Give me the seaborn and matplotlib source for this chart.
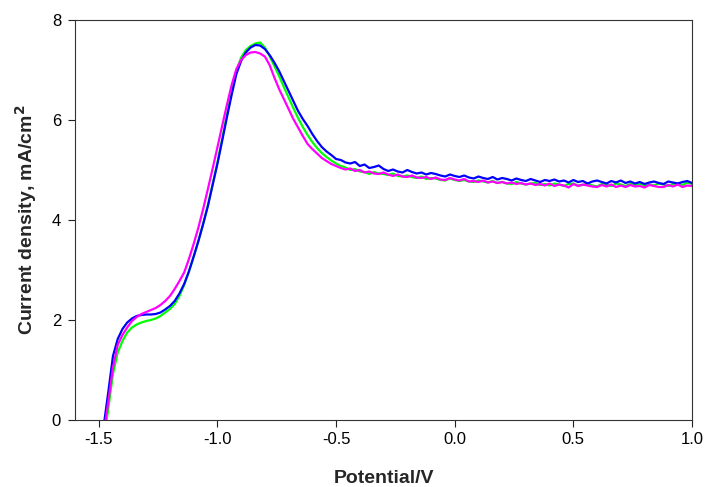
import numpy as np
import pandas as pd
import matplotlib
matplotlib.use("Agg")
import matplotlib.pyplot as plt
import seaborn as sns

# ======================
# DATA
# ======================
potential = [
    -1.48, -1.46, -1.44, -1.42, -1.40, -1.38, -1.36, -1.34, -1.32, -1.30,
    -1.28, -1.26, -1.24, -1.22, -1.20, -1.18, -1.16, -1.14, -1.12, -1.10,
    -1.08, -1.06, -1.04, -1.02, -1.00, -0.98, -0.96, -0.94, -0.92, -0.90,
    -0.88, -0.86, -0.84, -0.82, -0.80, -0.78, -0.76, -0.74, -0.72, -0.70,
    -0.68, -0.66, -0.64, -0.62, -0.60, -0.58, -0.56, -0.54, -0.52, -0.50,
    -0.48, -0.46, -0.44, -0.42, -0.40, -0.38, -0.36, -0.34, -0.32, -0.30,
    -0.28, -0.26, -0.24, -0.22, -0.20, -0.18, -0.16, -0.14, -0.12, -0.10,
    -0.08, -0.06, -0.04, -0.02, 0.00, 0.02, 0.04, 0.06, 0.08, 0.10,
    0.12, 0.14, 0.16, 0.18, 0.20, 0.22, 0.24, 0.26, 0.28, 0.30,
    0.32, 0.34, 0.36, 0.38, 0.40, 0.42, 0.44, 0.46, 0.48, 0.50,
    0.52, 0.54, 0.56, 0.58, 0.60, 0.62, 0.64, 0.66, 0.68, 0.70,
    0.72, 0.74, 0.76, 0.78, 0.80, 0.82, 0.84, 0.86, 0.88, 0.90,
    0.92, 0.94, 0.96, 0.98, 1.00,
]

current_green = [
    -0.45, 0.22, 0.92, 1.35, 1.58, 1.75, 1.85, 1.91, 1.95, 1.98,
    2.00, 2.03, 2.08, 2.15, 2.22, 2.32, 2.48, 2.70, 2.97, 3.26,
    3.58, 3.92, 4.30, 4.72, 5.15, 5.62, 6.10, 6.56, 6.98, 7.25,
    7.40, 7.48, 7.53, 7.55, 7.45, 7.28, 7.08, 6.88, 6.66, 6.45,
    6.24, 6.04, 5.86, 5.70, 5.56, 5.44, 5.34, 5.26, 5.19, 5.13,
    5.08, 5.05, 5.00, 5.02, 4.97, 4.96, 4.92, 4.96, 4.93, 4.92,
    4.90, 4.93, 4.88, 4.87, 4.89, 4.86, 4.84, 4.87, 4.82, 4.84,
    4.83, 4.80, 4.79, 4.83, 4.80, 4.78, 4.80, 4.77, 4.76, 4.79,
    4.77, 4.75, 4.78, 4.74, 4.76, 4.73, 4.72, 4.76, 4.73, 4.71,
    4.73, 4.74, 4.70, 4.72, 4.69, 4.73, 4.71, 4.68, 4.72, 4.73,
    4.69, 4.70, 4.73, 4.69, 4.67, 4.72, 4.70, 4.68, 4.73, 4.71,
    4.68, 4.72, 4.70, 4.73, 4.68, 4.71, 4.69, 4.73, 4.71, 4.68,
    4.72, 4.74, 4.70, 4.75, 4.72,
]

current_blue = [
    -0.15, 0.55, 1.28, 1.62, 1.82, 1.95, 2.03, 2.08, 2.10, 2.11,
    2.11, 2.12, 2.15, 2.21, 2.28, 2.38, 2.53, 2.72, 2.97, 3.27,
    3.58, 3.92, 4.28, 4.70, 5.12, 5.58, 6.05, 6.50, 6.92, 7.18,
    7.35, 7.45, 7.50, 7.49, 7.42, 7.30, 7.15, 6.98, 6.78, 6.58,
    6.38, 6.18, 6.02, 5.88, 5.72, 5.58, 5.46, 5.37, 5.30, 5.22,
    5.20, 5.15, 5.13, 5.16, 5.08, 5.11, 5.04, 5.06, 5.09, 5.02,
    4.98, 5.01, 4.97, 4.95, 5.00, 4.96, 4.93, 4.95, 4.91, 4.94,
    4.92, 4.89, 4.87, 4.91, 4.88, 4.86, 4.89, 4.85, 4.83, 4.87,
    4.84, 4.82, 4.86, 4.81, 4.84, 4.82, 4.79, 4.83, 4.80, 4.78,
    4.82, 4.79, 4.76, 4.80, 4.78, 4.81, 4.77, 4.79, 4.75, 4.80,
    4.76, 4.78, 4.73, 4.77, 4.79, 4.76, 4.73, 4.78, 4.75, 4.79,
    4.74, 4.77, 4.73, 4.76, 4.72, 4.75, 4.77, 4.74, 4.72, 4.77,
    4.75, 4.73, 4.76, 4.78, 4.74,
]

current_magenta = [
    -0.30, 0.35, 1.05, 1.50, 1.70, 1.85, 1.98, 2.06, 2.12, 2.16,
    2.20, 2.24, 2.30, 2.38, 2.48, 2.62, 2.78, 2.95, 3.22, 3.52,
    3.85, 4.22, 4.62, 5.03, 5.45, 5.88, 6.30, 6.70, 7.02, 7.20,
    7.30, 7.35, 7.36, 7.33, 7.27, 7.10, 6.85, 6.62, 6.42, 6.22,
    6.02, 5.85, 5.68, 5.52, 5.42, 5.33, 5.24, 5.18, 5.12, 5.08,
    5.04, 5.01, 5.03, 4.98, 5.00, 4.95, 4.97, 4.93, 4.92, 4.95,
    4.91, 4.88, 4.91, 4.87, 4.86, 4.89, 4.85, 4.84, 4.86, 4.82,
    4.85, 4.81, 4.80, 4.84, 4.81, 4.79, 4.82, 4.77, 4.78, 4.76,
    4.79, 4.75, 4.77, 4.74, 4.76, 4.73, 4.75, 4.72, 4.74, 4.71,
    4.73, 4.70, 4.72, 4.69, 4.73, 4.68, 4.71, 4.69, 4.65, 4.72,
    4.68, 4.71, 4.69, 4.67, 4.66, 4.70, 4.67, 4.71, 4.66, 4.69,
    4.66, 4.70, 4.67, 4.68, 4.65, 4.70, 4.68, 4.66, 4.66, 4.70,
    4.67, 4.71, 4.66, 4.69, 4.68,
]

series_names = ["green", "blue", "magenta"]
series_colors = ["#00FF00", "#0000FF", "#FF00FF"]

x_ticks = [-1.5, -1.0, -0.5, 0.0, 0.5, 1.0]
y_ticks = [0, 2, 4, 6, 8]

# ======================
# BUILD TABLE
# ======================
df = pd.concat([
    pd.DataFrame({"potential": potential, "current": vals, "run": name})
    for name, vals in zip(series_names, [current_green, current_blue, current_magenta])
], ignore_index=True)

# ======================
# PLOT
# ======================
sns.set_style("ticks")
plt.rcParams["font.family"] = ["Liberation Sans", "DejaVu Sans"]
plt.rcParams["axes.unicode_minus"] = False

fig = plt.figure(figsize=(7.06, 4.87), dpi=100)
ax = fig.add_axes([75 / 706, 67 / 487, 617 / 706, 400 / 487])

sns.lineplot(data=df, x="potential", y="current", hue="run",
             palette=dict(zip(series_names, series_colors)),
             estimator=None, sort=False, linewidth=1.6, legend=False, ax=ax)

ax.set_xlim(-1.6, 1.0)
ax.set_ylim(0, 8)
ax.set_xticks(x_ticks)
ax.set_xticklabels([f"{t:.1f}" for t in x_ticks])
ax.set_yticks(y_ticks)
ax.set_yticklabels([str(t) for t in y_ticks])
ax.tick_params(direction="out", length=5, width=0.8, labelsize=12,
               pad=4, colors="#222222", labelcolor="black")
ax.tick_params(axis="y", pad=5)

for side in ["left", "bottom", "top", "right"]:
    ax.spines[side].set_visible(True)
    ax.spines[side].set_linewidth(0.8)
    ax.spines[side].set_color("#333333")

ax.set_xlabel("Potential/V", fontsize=14, fontweight="bold", labelpad=16)
ax.set_ylabel("Current density, mA/cm$^\\mathbf{2}$", fontsize=14,
              fontweight="bold", labelpad=9)

fig.savefig("out.png", dpi=100)
